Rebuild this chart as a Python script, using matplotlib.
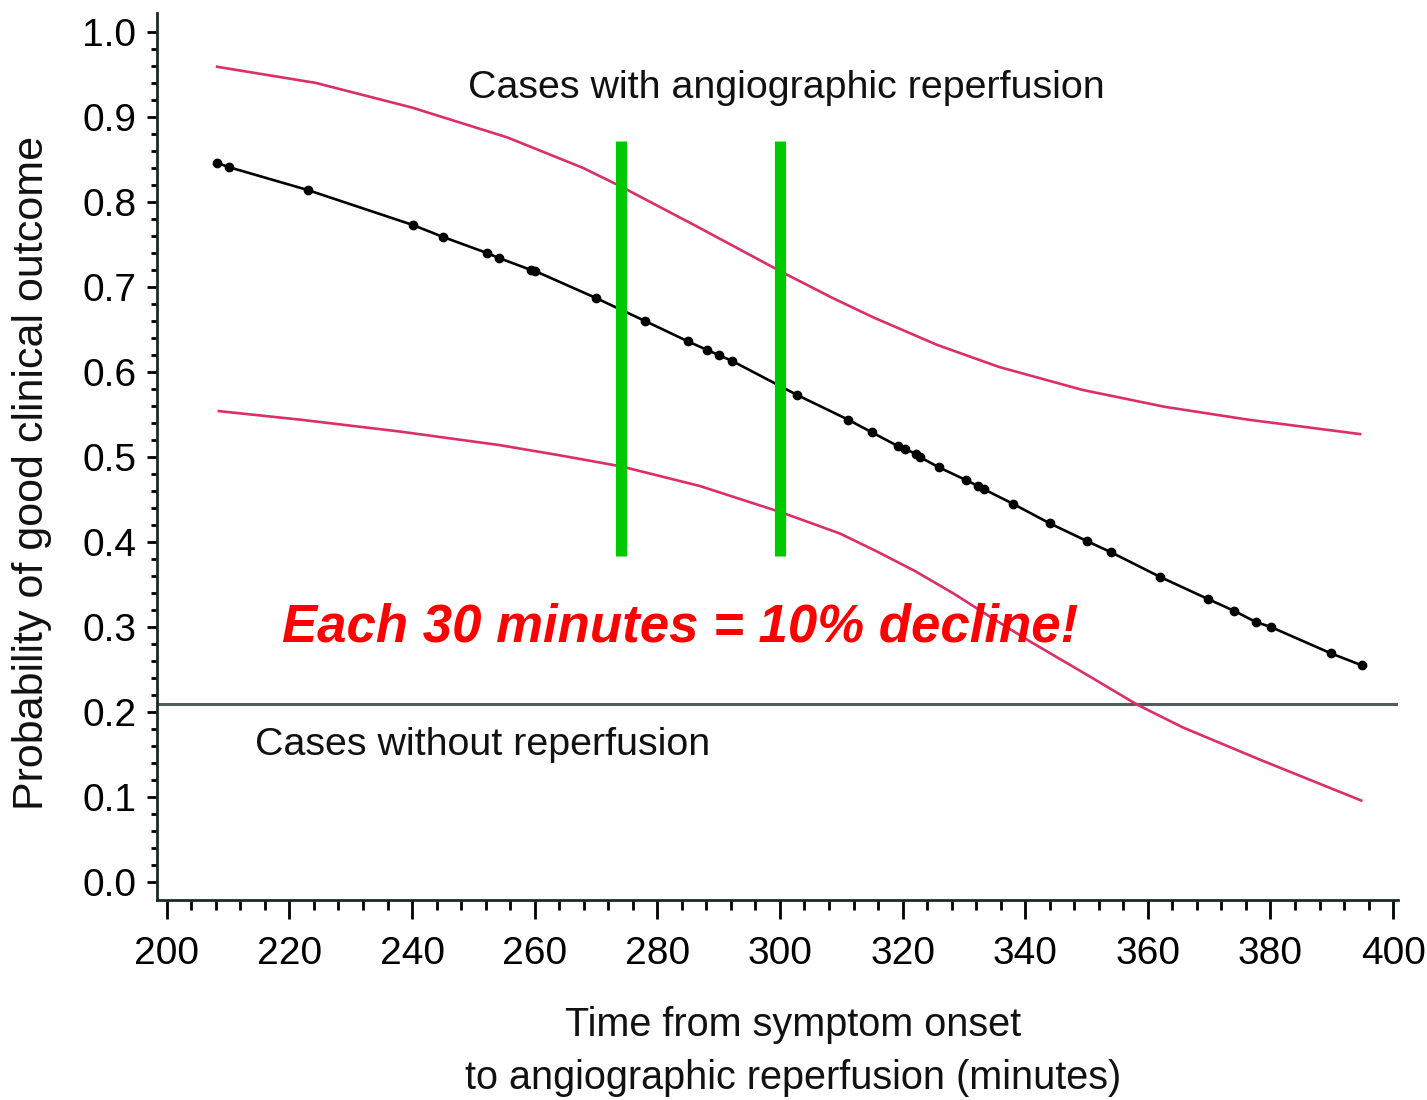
import numpy as np
import matplotlib as mpl
import matplotlib.pyplot as plt

mpl.use("Agg")
plt.rcParams["font.family"] = ["Liberation Sans", "DejaVu Sans"]

# fitted probability (black line with observed cases as dots)
fit_x = [208.2, 210.1, 223.0, 240.1, 245.0, 252.2, 254.2, 259.4, 260.0, 270.0,
         278.0, 285.0, 288.1, 290.0, 292.2, 302.8, 311.1, 315.0, 319.2, 320.4,
         322.2, 322.8, 325.9, 330.3, 332.3, 333.3, 338.0, 344.0, 350.1, 354.0,
         362.0, 369.8, 374.1, 377.6, 380.1, 389.9, 394.9]
fit_y = [0.846, 0.841, 0.814, 0.773, 0.759, 0.740, 0.734, 0.720, 0.719, 0.687,
         0.660, 0.636, 0.626, 0.620, 0.613, 0.573, 0.544, 0.529, 0.513, 0.509,
         0.504, 0.500, 0.488, 0.473, 0.466, 0.462, 0.445, 0.422, 0.401, 0.388,
         0.359, 0.333, 0.319, 0.306, 0.300, 0.269, 0.255]

# confidence band
upper_x = [208.2, 224.3, 240.0, 255.5, 267.9, 274.1, 286.5, 300.2, 308.6, 315.3,
           325.6, 335.7, 349.3, 362.8, 376.3, 394.6]
upper_y = [0.959, 0.940, 0.911, 0.876, 0.840, 0.818, 0.771, 0.718, 0.687, 0.664,
           0.632, 0.606, 0.579, 0.559, 0.544, 0.527]
lower_x = [208.5, 221.7, 238.0, 254.3, 264.1, 274.1, 286.9, 300.2, 309.8, 315.8,
           322.0, 328.2, 334.3, 340.8, 349.8, 358.2, 365.7, 378.3, 394.8]
lower_y = [0.554, 0.544, 0.530, 0.514, 0.502, 0.489, 0.466, 0.435, 0.410, 0.389,
           0.366, 0.340, 0.312, 0.283, 0.245, 0.209, 0.182, 0.144, 0.096]

no_reperfusion = 0.209
marker_times = [274, 300]

fig = plt.figure(figsize=(14.27, 11), dpi=100)
ax = fig.add_axes([0.110, 0.1818, 0.8697, 0.8062])

ax.axhline(no_reperfusion, color="#4f5e5c", lw=2.2, zorder=1)
ax.plot(upper_x, upper_y, color="#dc2f66", lw=1.9)
ax.plot(lower_x, lower_y, color="#dc2f66", lw=1.9)
ax.plot(fit_x, fit_y, color="black", lw=1.9, marker="o", ms=6)
ax.vlines(marker_times, 0.384, 0.872, color="#00c800", lw=8, zorder=3)

ax.text(249.1, 0.934, "Cases with angiographic reperfusion", fontsize=28.4,
        va="center", ha="left", color="#111111")
ax.text(214.4, 0.161, "Cases without reperfusion", fontsize=28.4,
        va="center", ha="left", color="#111111")
ax.text(218.8, 0.299, "Each 30 minutes = 10% decline!", fontsize=38,
        fontweight="bold", style="italic",
        color="#ff0000", va="center", ha="left", zorder=4)

ax.set_xlim(198.4, 400.8)
ax.set_ylim(-0.021, 1.022)
ax.set_xticks(np.arange(200, 401, 20))
ax.set_xticks(np.arange(200, 401, 4), minor=True)
ax.set_yticks(np.round(np.arange(0, 1.01, 0.1), 1))
ax.set_yticks(np.arange(0, 1.01, 0.02), minor=True)
ax.yaxis.set_major_formatter(mpl.ticker.FormatStrFormatter("%.1f"))

for s in ["top", "right"]:
    ax.spines[s].set_visible(False)
for s in ["left", "bottom"]:
    ax.spines[s].set_linewidth(2)
    ax.spines[s].set_color("#1a2a2a")

ax.tick_params(axis="x", which="major", length=14, width=2, labelsize=28, pad=12)
ax.tick_params(axis="x", which="minor", length=7, width=2)
ax.tick_params(axis="y", which="major", length=7, width=2, labelsize=28, pad=8)
ax.tick_params(axis="y", which="minor", length=4, width=2)

fig.text(0.0225, 0.57, "Probability of good clinical outcome", rotation=90,
         fontsize=31, va="center", ha="center", color="#111111")
fig.text(0.556, 0.044, "Time from symptom onset\nto angiographic reperfusion (minutes)",
         fontsize=28.5, va="center", ha="center", linespacing=1.5, color="#111111")

fig.savefig("out.png", dpi=100)
